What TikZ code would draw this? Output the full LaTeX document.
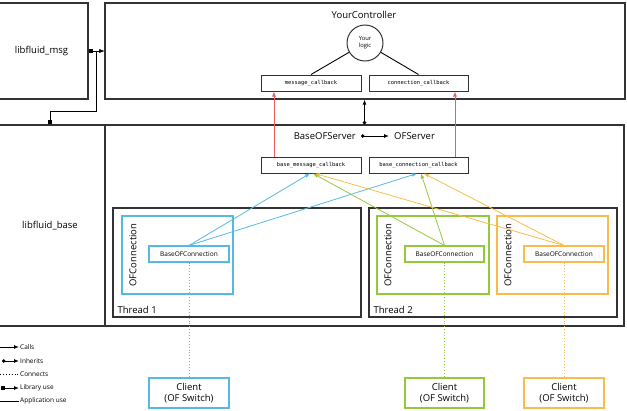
\documentclass[tikz,border=0pt]{standalone}
\usepackage{fontspec}
\setmainfont{Open Sans}
\newfontfamily\codefont{DejaVu Sans Mono}
\usetikzlibrary{arrows.meta, positioning}

\definecolor{linegray}{HTML}{333333}
\definecolor{ofblue}{HTML}{55B9E4}
\definecolor{ofgreen}{HTML}{95C93D}
\definecolor{ofyellow}{HTML}{F9BC4A}
\definecolor{ofred}{HTML}{EE5A5E}

\begin{document}
\begin{tikzpicture}[x=1pt, y=-1pt, >={Latex[length=5pt,width=4pt]}]
  \tikzstyle{block} = [draw=linegray, line width=1.3pt, rectangle, inner sep=0pt, font={\fontsize{9.5}{11}\selectfont}];
  \tikzstyle{title} = [font={\fontsize{9.5}{11}\selectfont}, inner sep=1pt];
  \tikzstyle{callback} = [draw=linegray, line width=1pt, rectangle, minimum width=100pt, minimum height=16pt, inner sep=0pt, font={\codefont\fontsize{5.4}{6}\selectfont}];
  \tikzstyle{thread} = [draw=linegray, line width=1.2pt, rectangle, minimum width=248pt, minimum height=109pt];
  \tikzstyle{ofconn} = [rectangle, line width=1.1pt, minimum width=111pt, minimum height=78pt];
  \tikzstyle{baseconn} = [rectangle, line width=1.1pt, minimum width=80pt, minimum height=16pt, inner sep=0pt, font={\fontsize{6.5}{8}\selectfont}];
  \tikzstyle{client} = [rectangle, line width=1.1pt, minimum width=80pt, minimum height=30pt, inner sep=0pt, align=center, font={\fontsize{9.5}{10.5}\selectfont}];
  \tikzstyle{vlabel} = [rotate=90, font={\fontsize{9.5}{11}\selectfont}];
  \tikzstyle{callEdge} = [ofred, line width=0.8pt, ->];
  \tikzstyle{useEdge} = [line width=0.9pt];
  \tikzstyle{legendText} = [anchor=west, inner sep=1pt, font={\fontsize{6.5}{8}\selectfont}];

  \useasboundingbox (0,0) rectangle (627,410);

  % top: libraries and controller
  \node[block, minimum width=93pt, minimum height=96pt] (msg) at (41.5,51) {libfluid\_msg};
  \node[block, minimum width=520pt, minimum height=96pt] (ctrl) at (365,51) {};
  \node[title] (ctrltitle) at (364,15) {YourController};
  \node[draw=linegray, line width=1pt, circle, minimum size=36pt, inner sep=0pt, align=center, font={\fontsize{5.8}{6.8}\selectfont}] (logic) at (365,43) {Your\\logic};
  \node[callback] (mcb) at (311,83) {message\_callback};
  \node[callback, minimum width=99pt] (ccb) at (418.5,83) {connection\_callback};

  % bottom: libfluid_base and server
  \node[block, minimum width=110pt, minimum height=201pt] (base) at (50,225.5) {libfluid\_base};
  \node[block, minimum width=519pt, minimum height=201pt] (srv) at (364.5,225.5) {};
  \node[title, anchor=east] (bos) at (357,136) {BaseOFServer};
  \node[title, anchor=west] (ofs) at (393,136) {OFServer};
  \node[callback] (bmcb) at (311,165) {base\_message\_callback};
  \node[callback, minimum width=99pt] (bccb) at (418.5,165) {base\_connection\_callback};

  % threads
  \node[thread] (th1) at (237,262.5) {};
  \node[thread] (th2) at (493,262.5) {};
  \node[title, anchor=south west] (th1lbl) at ([shift={(4pt,3pt)}]th1.south west) {Thread 1};
  \node[title, anchor=south west] (th2lbl) at ([shift={(4pt,3pt)}]th2.south west) {Thread 2};

  % connections
  \node[ofconn, draw=ofblue] (oc1) at (177.5,255) {};
  \node[ofconn, draw=ofgreen, minimum width=112pt] (oc2) at (433,255) {};
  \node[ofconn, draw=ofyellow] (oc3) at (552.5,255) {};
  \node[vlabel] (oc1lbl) at (133,255) {OFConnection};
  \node[vlabel] (oc2lbl) at (388,255) {OFConnection};
  \node[vlabel] (oc3lbl) at (508,255) {OFConnection};
  \node[baseconn, draw=ofblue] (boc1) at (189,254) {BaseOFConnection};
  \node[baseconn, draw=ofgreen, minimum width=79pt] (boc2) at (444.5,254) {BaseOFConnection};
  \node[baseconn, draw=ofyellow] (boc3) at (564,254) {BaseOFConnection};

  % clients
  \node[client, draw=ofblue] (cl1) at (189,393) {Client\\(OF Switch)};
  \node[client, draw=ofgreen, minimum width=79pt] (cl2) at (444.5,393) {Client\\(OF Switch)};
  \node[client, draw=ofyellow] (cl3) at (564,393) {Client\\(OF Switch)};

  % application use
  \draw[useEdge] (logic) -- (mcb.north);
  \draw[useEdge] (logic) -- (ccb.north);

  % library use
  \draw[useEdge, {Square[length=4pt,width=4pt]}->] (msg.east) -- (ctrl.west);
  \draw[useEdge, {Square[length=4pt,width=4pt]}->] (base.north) -- ++(0,-13) -| ([xshift=-8pt]ctrl.west) -- (ctrl.west);

  % inherits
  \draw[useEdge, {Circle[length=3.5pt]}->] (srv.north) -- (srv.north |- ctrl.south);
  \draw[useEdge, {Circle[length=3.5pt]}->] ([xshift=4pt]bos.east) -- ([xshift=-4pt]ofs.west);

  % calls
  \draw[callEdge] ([xshift=-37pt]bmcb.north) -- ([xshift=-37pt]mcb.south);
  \draw[callEdge] ([xshift=36.5pt]bccb.north) -- ([xshift=36.5pt]ccb.south);
  \draw[callEdge, ofblue] (boc1.north) -- ([xshift=-1pt]bmcb.south);
  \draw[callEdge, ofblue] (boc1.north) -- ([xshift=-1.5pt]bccb.south);
  \draw[callEdge, ofgreen] (boc2.north) -- ([xshift=2pt]bmcb.south);
  \draw[callEdge, ofgreen] (boc2.north) -- ([xshift=2.5pt]bccb.south);
  \draw[callEdge, ofyellow] (boc3.north) -- ([xshift=4pt]bmcb.south);
  \draw[callEdge, ofyellow] (boc3.north) -- ([xshift=5.5pt]bccb.south);

  % connects
  \draw[ofblue, line width=0.9pt, dotted] (boc1.south) -- (cl1.north);
  \draw[ofgreen, line width=0.9pt, dotted] (boc2.south) -- (cl2.north);
  \draw[ofyellow, line width=0.9pt, dotted] (boc3.south) -- (cl3.north);

  % legend
  \foreach \y/\name/\txt in {347/lcalls/Calls, 361/linh/Inherits, 374/lconn/Connects, 388/llib/Library use, 401/lapp/Application use} {
    \node[legendText] (\name) at (19,\y) {\txt};
    \coordinate (\name s) at (0,\y);
  }
  \draw[useEdge, ->] (lcallss) -- (lcalls.west);
  \draw[useEdge, {Circle[length=3.5pt]}->] ([xshift=2pt]linhs) -- (linh.west);
  \draw[useEdge, dotted] (lconns) -- (lconn.west);
  \draw[useEdge, {Square[length=4pt,width=4pt]}->] ([xshift=1pt]llibs) -- (llib.west);
  \draw[useEdge] (lapps) -- (lapp.west);
\end{tikzpicture}
\end{document}
